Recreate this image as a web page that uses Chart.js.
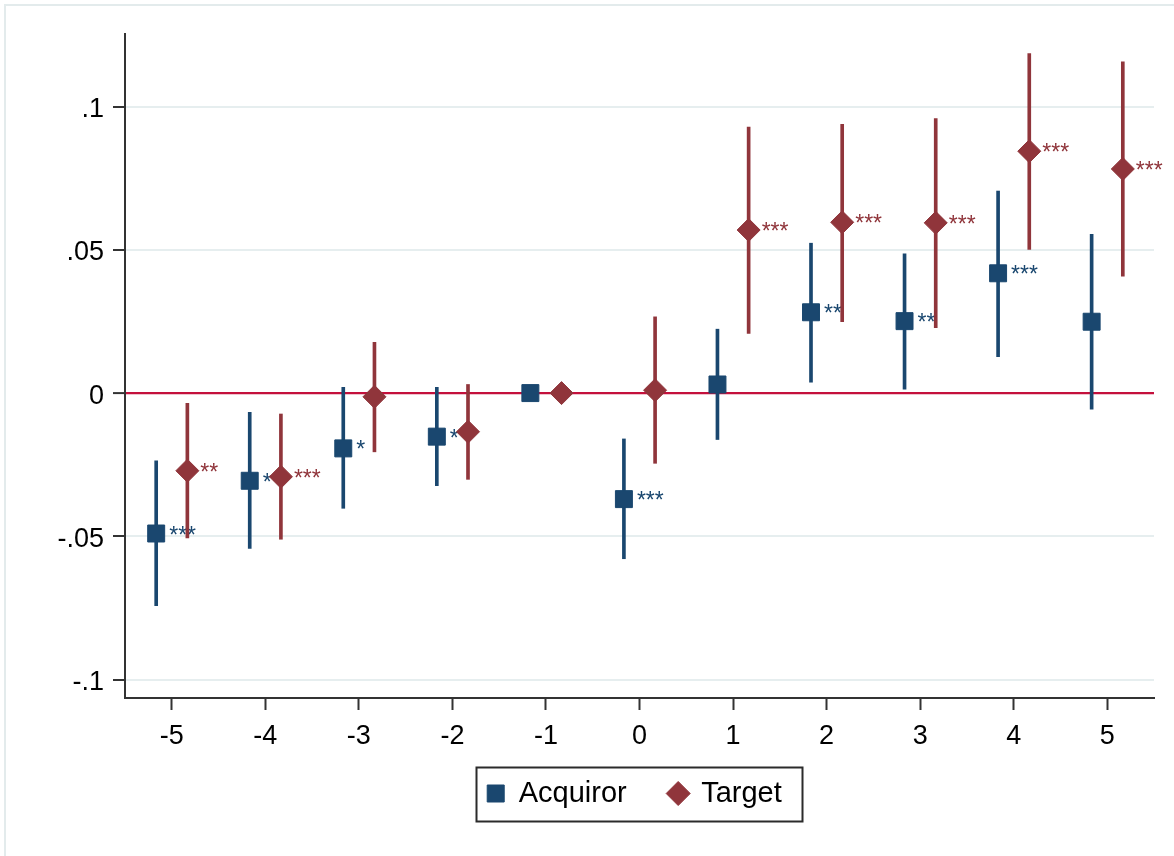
<!DOCTYPE html>
<html>
<head>
<meta charset="utf-8">
<script src="https://cdn.jsdelivr.net/npm/chart.js@4.4.1/dist/chart.umd.min.js"></script>
<style>
html,body{margin:0;padding:0;background:#ffffff;}
canvas{display:block;}
</style>
</head>
<body>
<canvas id="c" width="1174" height="856"></canvas>
<script>
// ---------------- data ----------------
const categories   = [-5, -4, -3, -2, -1, 0, 1, 2, 3, 4, 5];
const xTickLabels  = ['-5', '-4', '-3', '-2', '-1', '0', '1', '2', '3', '4', '5'];

const acquirorCoef = [-0.0490, -0.0306, -0.0193, -0.0152, 0.0000, -0.0370, 0.0030, 0.0282, 0.0251, 0.0418, 0.0249];
const acquirorLow  = [-0.0742, -0.0542, -0.0402, -0.0323, null,   -0.0578, -0.0162, 0.0038, 0.0014, 0.0127, -0.0056];
const acquirorHigh = [-0.0236, -0.0067,  0.0020,  0.0020, null,   -0.0160, 0.0223, 0.0523, 0.0486, 0.0705, 0.0554];
const acquirorStars = ['***', '**', '*', '*', '', '***', '', '**', '**', '***', ''];

const targetCoef   = [-0.0271, -0.0292, -0.0013, -0.0135, 0.0000, 0.0010, 0.0569, 0.0596, 0.0594, 0.0844, 0.0782];
const targetLow    = [-0.0505, -0.0510, -0.0205, -0.0301, null,  -0.0245, 0.0208, 0.0249, 0.0228, 0.0501, 0.0408];
const targetHigh   = [-0.0036, -0.0073,  0.0177,  0.0030, null,   0.0266, 0.0928, 0.0938, 0.0958, 0.1185, 0.1156];
const targetStars  = ['**', '***', '', '', '', '', '***', '***', '***', '***', '***'];

const yTickValues  = [-0.1, -0.05, 0, 0.05, 0.1];
const yTickLabels  = ['-.1', '-.05', '0', '.05', '.1'];

const seriesNames  = ['Acquiror', 'Target'];

// ---------------- style ----------------
const NAVY = '#1a476f';
const MAROON = '#90353b';
const ZERO_LINE = '#c4103c';
const AXIS = '#333333';
const GRID = '#e6eeef';
const acqOffset = -1 / 6;
const tgtOffset = 1 / 6;

Chart.defaults.font.family = "'Liberation Sans', Arial, sans-serif";
Chart.defaults.color = '#000000';

function points(coef, off) {
  return categories.map((c, i) => ({ x: c + off, y: coef[i] }));
}
function intervals(lo, hi, off) {
  return categories
    .map((c, i) => ({ x: c + off, y: (lo[i] === null ? null : [lo[i], hi[i]]) }))
    .filter(d => d.y !== null);
}

const starsByDataset = { 0: acquirorStars, 1: targetStars };
const starColor = { 0: NAVY, 1: MAROON };

const starPlugin = {
  id: 'stars',
  afterDatasetDraw(chart, args) {
    const stars = starsByDataset[args.index];
    if (!stars) return;
    const ctx = chart.ctx;
    ctx.save();
    ctx.font = "23px 'Liberation Sans', Arial, sans-serif";
    ctx.fillStyle = starColor[args.index];
    ctx.textAlign = 'left';
    ctx.textBaseline = 'alphabetic';
    args.meta.data.forEach((el, i) => {
      if (stars[i]) ctx.fillText(stars[i], el.x + 13, el.y + 9);
    });
    ctx.restore();
  }
};

const framePlugin = {
  id: 'frame',
  beforeDraw(chart) {
    const ctx = chart.ctx;
    ctx.save();
    ctx.fillStyle = '#ffffff';
    ctx.fillRect(0, 0, chart.width, chart.height);
    ctx.strokeStyle = '#e3ebec';
    ctx.lineWidth = 2;
    ctx.strokeRect(5, 5, chart.width + 20, chart.height + 20);
    ctx.restore();
  },
  afterLayout(chart) {
    const lg = chart.legend;
    if (lg) {
      lg.left -= 5;
      lg.right -= 5;
      lg.top -= 22;
      lg.bottom -= 22;
    }
  },
  afterDraw(chart) {
    const lg = chart.legend;
    if (!lg || !lg.legendHitBoxes || !lg.legendHitBoxes.length) return;
    const hb = lg.legendHitBoxes;
    const first = hb[0], last = hb[hb.length - 1];
    const cy = first.top + first.height / 2;
    const ctx = chart.ctx;
    ctx.save();
    ctx.strokeStyle = '#2b2b2b';
    ctx.lineWidth = 2;
    const l = Math.round(first.left - 11) + 0.5;
    const r = Math.round(last.left + last.width + 20) + 0.5;
    const t = Math.round(cy - 27) + 0.5;
    const b = Math.round(cy + 27) + 0.5;
    ctx.strokeRect(l, t, r - l, b - t);
    ctx.restore();
  }
};

new Chart(document.getElementById('c'), {
  type: 'scatter',
  data: {
    datasets: [
      {
        label: seriesNames[0],
        data: points(acquirorCoef, acqOffset),
        pointStyle: 'rect',
        pointRadius: 12,
        pointHoverRadius: 12,
        backgroundColor: NAVY,
        borderColor: NAVY,
        borderWidth: 1,
        order: 3
      },
      {
        label: seriesNames[1],
        data: points(targetCoef, tgtOffset),
        pointStyle: 'rectRot',
        pointRadius: 11.5,
        pointHoverRadius: 11.5,
        backgroundColor: MAROON,
        borderColor: MAROON,
        borderWidth: 1,
        order: 1
      },
      {
        type: 'bar',
        label: 'Acquiror CI',
        data: intervals(acquirorLow, acquirorHigh, acqOffset),
        backgroundColor: NAVY,
        borderWidth: 0,
        barThickness: 3,
        maxBarThickness: 3,
        grouped: false,
        order: 4
      },
      {
        type: 'bar',
        label: 'Target CI',
        data: intervals(targetLow, targetHigh, tgtOffset),
        backgroundColor: MAROON,
        borderWidth: 0,
        barThickness: 3,
        maxBarThickness: 3,
        grouped: false,
        order: 2
      }
    ]
  },
  options: {
    responsive: false,
    animation: false,
    devicePixelRatio: 1,
    layout: { padding: { top: 34, left: 0, right: 20, bottom: 16 } },
    plugins: {
      tooltip: { enabled: false },
      legend: {
        position: 'bottom',
        fullSize: false,
        labels: {
          usePointStyle: true,
          boxWidth: 17,
          boxHeight: 17,
          padding: 43,
          color: '#000000',
          font: { size: 29 },
          filter: item => item.datasetIndex < 2,
          sort: (a, b) => a.datasetIndex - b.datasetIndex
        }
      }
    },
    scales: {
      x: {
        type: 'linear',
        min: -5.5,
        max: 5.5,
        offset: false,
        afterBuildTicks: s => { s.ticks = categories.map(v => ({ value: v })); },
        afterFit: s => { s.height = 60; },
        ticks: {
          font: { size: 27 },
          color: '#000000',
          padding: 10,
          callback: (v) => { const i = categories.indexOf(v); return i >= 0 ? xTickLabels[i] : ''; }
        },
        grid: {
          display: true,
          drawOnChartArea: false,
          drawTicks: true,
          tickLength: 12,
          tickColor: AXIS,
          tickWidth: 2,
          offset: false
        },
        border: { display: true, color: AXIS, width: 2 }
      },
      y: {
        type: 'linear',
        min: -0.1064,
        max: 0.1253,
        afterBuildTicks: s => { s.ticks = yTickValues.map(v => ({ value: v })); },
        afterFit: s => { s.width = 125; },
        ticks: {
          font: { size: 27 },
          color: '#000000',
          padding: 9,
          labelOffset: 3,
          callback: (v) => { const i = yTickValues.indexOf(v); return i >= 0 ? yTickLabels[i] : ''; }
        },
        grid: {
          display: true,
          drawOnChartArea: true,
          drawTicks: true,
          tickLength: 12,
          tickColor: AXIS,
          tickWidth: 2,
          color: ctx => (ctx.tick && ctx.tick.value === 0 ? ZERO_LINE : GRID),
          lineWidth: ctx => (ctx.tick && ctx.tick.value === 0 ? 2.2 : 2)
        },
        border: { display: true, color: AXIS, width: 2 }
      }
    }
  },
  plugins: [starPlugin, framePlugin]
});
</script>
</body>
</html>
